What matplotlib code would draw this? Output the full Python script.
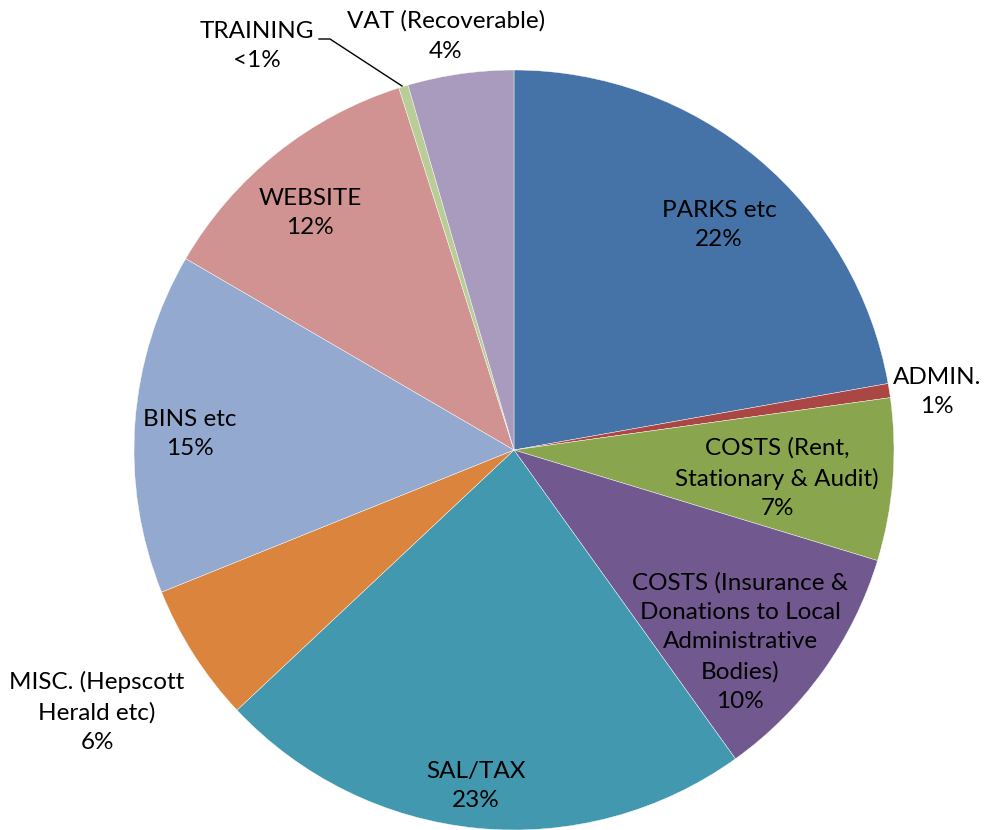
import matplotlib.pyplot as plt
import numpy as np

plt.rcParams['font.family'] = ['Lato', 'DejaVu Sans']

categories = ['PARKS etc', 'ADMIN.', 'COSTS (Rent,\nStationary & Audit)',
              'COSTS (Insurance &\nDonations to Local\nAdministrative\nBodies)',
              'SAL/TAX', 'MISC. (Hepscott\nHerald etc)', 'BINS etc', 'WEBSITE',
              'TRAINING', 'VAT (Recoverable)']
shares = [22.2, 0.6, 6.9, 10.4, 22.9, 5.9, 14.5, 11.7, 0.4, 4.5]
pct_labels = ['22%', '1%', '7%', '10%', '23%', '6%', '15%', '12%', '<1%', '4%']
colors = ['#4572A7', '#AA4643', '#89A54E', '#71588F', '#4198AF',
          '#DB843D', '#93A9CF', '#D19392', '#B9CD96', '#A99BBD']

# label centres in pixels (x from left, y from top)
label_px = [(719, 225), (937, 392), (777, 478), (740, 642), (476, 786),
            (97, 712), (190, 434), (310, 213), (257, 46), (446, 36)]

W, H = 984, 830
cx, cy, R = 514, 450, 380

fig = plt.figure(figsize=(W / 100, H / 100), dpi=100)
ax = fig.add_axes([0, 0, 1, 1])

ax.pie(shares, colors=colors, startangle=90, counterclock=False, radius=1.0,
       wedgeprops=dict(edgecolor='white', linewidth=0.3), frame=True)
ax.set_xlim(-cx / R, (W - cx) / R)
ax.set_ylim(-(H - cy) / R, cy / R)
ax.set_aspect('auto')
ax.axis('off')


def px(x, y):
    return (x - cx) / R, (cy - y) / R


for cat, pct, (x, y) in zip(categories, pct_labels, label_px):
    tx, ty = px(x, y)
    ax.text(tx, ty, cat + '\n' + pct, ha='center', va='center',
            fontsize=17.5, linespacing=1.5, color='black')

# leader line for TRAINING
pts = [px(319, 39), px(330, 39), px(402, 86)]
ax.plot([p[0] for p in pts], [p[1] for p in pts], color='black', linewidth=1)

plt.savefig('out.png', dpi=100)
